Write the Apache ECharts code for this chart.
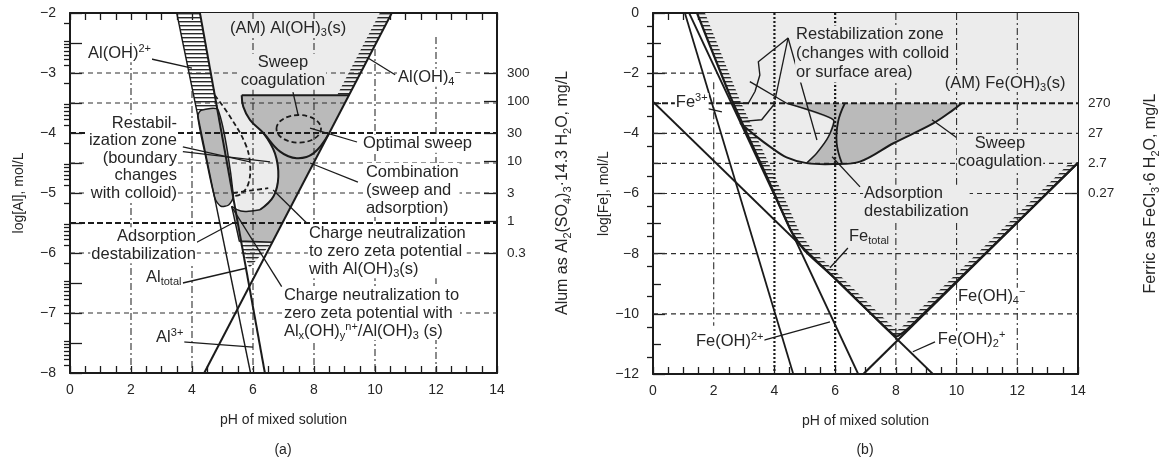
<!DOCTYPE html>
<html>
<head>
<meta charset="utf-8">
<script src="https://cdn.jsdelivr.net/npm/echarts@6/dist/echarts.min.js"></script>
<style>
  html, body { margin: 0; background: #fff; }
  #chart { width: 1163px; height: 463px; }
</style>
</head>
<body>
<div id="chart"></div>
<script>
// ---------- panel (a): alum, pH vs log[Al] ----------
var alumLabelMg = [300, 100, 30, 10, 3, 1, 0.3];
var alumMinorMg = [0.003, 0.004, 0.005, 0.006, 0.007, 0.008, 0.009, 0.01, 0.02, 0.03, 0.04, 0.05, 0.06, 0.07, 0.08, 0.09,
  0.1, 0.2, 0.4, 0.5, 0.6, 0.7, 0.8, 0.9, 2, 4, 5, 6, 7, 8, 9, 20, 40, 50, 60, 70, 80, 90,
  200, 400, 500, 600, 700, 800, 900, 1000, 2000, 3000];

var lightRegionA = [[4.26, -2], [10.55, -2], [6.64, -5.82], [5.88, -6.25]];
var hatchBandA = [[3.5, -2], [4.26, -2], [4.86, -3.62], [4.15, -3.62]];
var alOH4HatchA = [[10.55, -2], [9.15, -3.37]];
var hatchTriA = [[5.55, -5.8], [6.64, -5.82], [5.88, -6.25]];
var darkRegionA = [[5.63, -3.37], [9.15, -3.37], [6.64, -5.82], [5.55, -5.8], [5.3, -5.22], [5.6, -5.3], [5.95, -5.3],
  [6.23, -5.28], [6.67, -5.06], [6.83, -4.73], [6.72, -4.34], [6.34, -4.0], [5.9, -3.78], [5.68, -3.56]];
var restabA = [[4.19, -3.72], [4.3, -3.62], [4.86, -3.62], [5.36, -5.05], [5.2, -5.2], [4.95, -5.22], [4.76, -5.1], [4.45, -4.4]];

var alOH4LineA = [[10.55, -2], [4.4, -8]];
var alTotLineA = [[4.26, -2], [6.39, -8]];
var alOH2LineA = [[3.5, -2], [5.92, -8]];
var sweepEdgeA = [[5.63, -3.37], [9.15, -3.37]];
var sweepCurveA = [[5.63, -3.37], [5.68, -3.56], [5.9, -3.78], [6.34, -4.0], [6.89, -4.31], [7.43, -4.42], [7.98, -4.34], [8.5, -4.0]];
var cCurveA = [[6.34, -4.0], [6.72, -4.34], [6.83, -4.73], [6.67, -5.06], [6.23, -5.28]];
var blobBottomA = [[5.3, -5.22], [5.6, -5.3], [5.95, -5.3], [6.23, -5.28]];
var darkLeftA = [[5.3, -5.22], [5.55, -5.8], [6.64, -5.82]];
var restabDashA = [[4.75, -3.37], [5.25, -3.73], [5.74, -4.17], [5.9, -4.5], [5.85, -4.84], [5.6, -5.02], [5.35, -5.05]];
var restabDash2A = [[5.35, -5.0], [5.9, -4.96], [6.5, -4.92]];
var optimalSweepA = { center: [7.5, -3.93], radius: [0.73, 0.23] };

var ptrA = [
  [[2.52, -2.75], [4.0, -2.92]], [[10.66, -3.03], [9.77, -2.75]], [[7.31, -3.32], [7.48, -3.7]],
  [[9.41, -4.15], [7.87, -3.92]], [[9.44, -4.82], [7.87, -4.5]], [[3.7, -4.23], [5.9, -4.48]],
  [[3.7, -4.31], [6.56, -4.48]], [[4.16, -5.82], [5.34, -5.5]], [[3.7, -6.5], [5.8, -6.25]],
  [[3.7, -7.48], [6.0, -7.57]], [[7.76, -5.5], [6.66, -4.95]], [[6.94, -6.56], [5.3, -5.23]]
];

// ---------- panel (b): ferric, pH vs log[Fe] ----------
var ferricLabelMg = [270, 27, 2.7, 0.27];
var ferricMinorMg = [100000, 27000, 10000, 2700, 1000, 100, 10, 1, 0.1, 0.027, 0.01, 0.001, 0.0001, 0.00001, 0.000001];

var boundaryB = [[1.45, 0], [2.6, -2.9], [3.8, -5.55], [4.55, -7.25], [5.0, -7.9], [5.93, -8.76], [7.6, -10.4],
  [8.02, -10.75], [8.45, -10.45], [14, -4.98]];
var darkRegionB = [[4.4, -3], [10.17, -3], [9.89, -3.22], [9.23, -3.67], [7.92, -4.33], [6.82, -4.94], [5.94, -5.02],
  [5.06, -4.99], [5.39, -4.66], [5.78, -4.11], [5.94, -3.55]];
var adsorbCurveB = [[2.87, -3.66], [3.4, -4.1], [3.85, -4.44], [4.4, -4.8], [5.06, -4.99], [5.94, -5.02], [6.82, -4.94],
  [7.92, -4.33], [9.23, -3.67], [9.89, -3.22], [10.17, -3.0]];
var dividerB = [[6.32, -3.0], [6.1, -3.6], [6.05, -4.33], [6.22, -4.99]];
var darkLeftB = [[4.4, -3], [5.94, -3.55], [5.78, -4.11], [5.39, -4.66], [5.06, -4.99]];
var restabB1 = [[3.47, -1.62], [3.52, -2.06], [3.36, -2.61], [3.14, -3.0], [2.59, -3.0]];
var restabB2 = [[3.19, -2.28], [4.4, -3]];
var restabB3 = [[2.87, -3.61], [3.58, -3.55], [4.02, -3.0]];
var fe3LineB = [[1.05, 0], [4.62, -12]];
var feOH2LineB = [[1.19, 0], [6.76, -12]];
var feOH2pLineB = [[0, -2.95], [9.22, -12]];
var feOH4LineB = [[6.93, -12], [14, -4.98]];

var ptrB = [
  [[4.45, -0.83], [3.46, -1.63]], [[4.45, -0.83], [4.02, -2.89]], [[4.45, -0.83], [5.4, -4.22]],
  [[1.55, -3.12], [2.27, -3.29]], [[6.82, -5.78], [5.9, -4.78]], [[10.11, -4.22], [9.19, -3.55]],
  [[6.42, -7.81], [5.83, -8.47]], [[3.36, -10.96], [5.83, -10.27]], [[9.29, -10.93], [8.56, -11.26]]
];

// ---------- styling ----------
var FONT = '"Liberation Sans", Arial, Helvetica, sans-serif';
var INK = '#1b1b1b', TXT = '#262626', LIGHT = '#ececec', DARK = '#bababa', WHITE = '#ffffff';
var NOTE_SIZE = 16.5;

var hatchCanvas = document.createElement('canvas');
hatchCanvas.width = 4; hatchCanvas.height = 4;
(function () { var g = hatchCanvas.getContext('2d'); g.fillStyle = '#2a2a2a'; g.fillRect(0, 1, 4, 1.4); })();
var HATCH = { type: 'pattern', image: hatchCanvas, repeat: 'repeat' };

var labelsA = [
  { at: [7.15, -2.25], text: '(AM) Al(OH){sb|3}(s)', align: 'center', bg: LIGHT },
  { at: [6.98, -2.98], text: 'Sweep\ncoagulation', align: 'center', bg: LIGHT },
  { at: [0.56, -2.67], text: 'Al(OH){sp|2+}', align: 'left', bg: WHITE },
  { at: [10.72, -3.08], text: 'Al(OH){sb|4}{sp|−}', align: 'left', bg: WHITE },
  { at: [9.57, -4.18], text: 'Optimal sweep', align: 'left', bg: WHITE },
  { at: [9.67, -4.95], text: 'Combination\n(sweep and\nadsorption)', align: 'left', bg: WHITE },
  { at: [3.54, -4.42], text: 'Restabil-\nization zone\n(boundary\nchanges\nwith colloid)', align: 'right', bg: WHITE, lh: 17.5 },
  { at: [4.16, -5.87], text: 'Adsorption\ndestabilization', align: 'right', bg: WHITE },
  { at: [2.46, -6.4], text: 'Al{sb|total}', align: 'left', bg: WHITE },
  { at: [2.79, -7.4], text: 'Al{sp|3+}', align: 'left', bg: WHITE },
  { at: [7.8, -5.97], text: 'Charge neutralization\nto zero zeta potential\nwith Al(OH){sb|3}(s)', align: 'left', bg: WHITE },
  { at: [6.98, -7.0], text: 'Charge neutralization to\nzero zeta potential with\nAl{sb|x}(OH){sb|y}{sp|n+}/Al(OH){sb|3} (s)', align: 'left', bg: WHITE }
];
var labelsB = [
  { at: [4.68, -1.36], text: 'Restabilization zone\n(changes with colloid\nor surface area)', align: 'left', bg: LIGHT, lh: 19 },
  { at: [11.6, -2.33], text: '(AM) Fe(OH){sb|3}(s)', align: 'center', bg: LIGHT },
  { at: [11.43, -4.62], text: 'Sweep\ncoagulation', align: 'center', bg: LIGHT },
  { at: [0.72, -2.96], text: 'Fe{sp|3+}', align: 'left', bg: WHITE },
  { at: [6.92, -6.31], text: 'Adsorption\ndestabilization', align: 'left', bg: LIGHT },
  { at: [6.42, -7.44], text: 'Fe{sb|total}', align: 'left', bg: LIGHT },
  { at: [10.01, -9.43], text: 'Fe(OH){sb|4}{sp|−}', align: 'left', bg: WHITE },
  { at: [9.35, -10.86], text: 'Fe(OH){sb|2}{sp|+}', align: 'left', bg: WHITE },
  { at: [1.38, -10.93], text: 'Fe(OH){sp|2+}', align: 'left', bg: WHITE }
];

var gridA = {
  h: [[-3, 0, 14], [-3.5, 0, 14], [-4.5, 0, 14], [-5, 0, 14], [-6, 0, 14], [-7, 0, 14]],
  hBold: [[-4, 0, 14], [-5.5, 0, 14]],
  v: [[2, -2.5, -8], [4, -3.3, -8], [6, -2, -8], [8, -2, -8], [10, -2.6, -8], [12, -2.4, -8]],
  vBold: []
};
var gridB = {
  h: [[-2, 0, 2.1], [-4, 0, 14], [-5, 0, 14], [-6, 0, 14], [-8, 0, 14], [-10, 0, 14]],
  hBold: [[-3, 0, 14]],
  v: [[2, -2.3, -10.4], [8, 0, -12], [10, 0, -12], [12, 0, -12]],
  vBold: [[4, 0, -12], [6, 0, -12]]
};

function alumLog(m) { return -3 + Math.log10(m / 300); }
function ferricLog(m) { return -3 + Math.log10(m / 270); }
function minusFmt(v) { return v < 0 ? '−' + Math.abs(v) : String(v); }

// ---------- element helpers ----------
function P(api, pts) { return pts.map(function (p) { return api.coord(p); }); }
function poly(api, pts, style, smooth) {
  return { type: 'polygon', shape: { points: P(api, pts), smooth: smooth || 0 }, style: style };
}
function pline(api, pts, w, smooth, dash) {
  return { type: 'polyline', shape: { points: P(api, pts), smooth: smooth || 0 },
    style: { fill: 'none', stroke: INK, lineWidth: w, lineDash: dash || null, lineJoin: 'round' } };
}
function band(api, pts, dx) {
  var a = P(api, pts);
  var b = a.map(function (q) { return [q[0] + dx, q[1]]; }).reverse();
  return { type: 'polygon', shape: { points: a.concat(b) }, style: { fill: HATCH } };
}
function gridEls(api, g) {
  var out = [];
  function add(list, horiz, style) {
    list.forEach(function (s) {
      var p1 = horiz ? api.coord([s[1], s[0]]) : api.coord([s[0], s[1]]);
      var p2 = horiz ? api.coord([s[2], s[0]]) : api.coord([s[0], s[2]]);
      out.push({ type: 'line', shape: { x1: p1[0], y1: p1[1], x2: p2[0], y2: p2[1] }, style: style });
    });
  }
  add(g.h, true, { stroke: '#2e2e2e', lineWidth: 1.1, lineDash: [5, 4] });
  add(g.hBold, true, { stroke: INK, lineWidth: 2.2, lineDash: [6, 3] });
  add(g.v, false, { stroke: '#2e2e2e', lineWidth: 1.1, lineDash: [7, 3, 2, 3] });
  add(g.vBold, false, { stroke: INK, lineWidth: 2.2, lineDash: [2, 2] });
  return out;
}
var RICH = {
  sb: { fontSize: 11, fontFamily: FONT, fill: TXT, padding: [9, 0, 0, 0] },
  sp: { fontSize: 11, fontFamily: FONT, fill: TXT, padding: [0, 0, 9, 0] }
};
function labelEls(api, labels) {
  return labels.map(function (l) {
    var c = api.coord(l.at);
    return { type: 'text', x: c[0], y: c[1], style: {
      text: l.text, align: l.align, verticalAlign: 'middle', fill: TXT, fontSize: NOTE_SIZE, fontFamily: FONT,
      lineHeight: l.lh || 18, backgroundColor: l.bg, padding: [0, 1], rich: RICH } };
  });
}
function ptrEls(api, list) {
  return list.map(function (s) { return pline(api, s, 1.3); });
}

function buildA(api) {
  var k = [];
  k.push(poly(api, lightRegionA, { fill: LIGHT }));
  k.push(poly(api, hatchBandA, { fill: HATCH }));
  k.push(band(api, alOH4HatchA, -12));
  k.push(poly(api, darkRegionA, { fill: DARK }));
  k.push(poly(api, restabA, { fill: DARK, stroke: INK, lineWidth: 1.5 }, 0.25));
  k.push(poly(api, hatchTriA, { fill: HATCH }));
  k = k.concat(gridEls(api, gridA));
  k.push(pline(api, alOH4LineA, 2));
  k.push(pline(api, alTotLineA, 2));
  k.push(pline(api, alOH2LineA, 1.4));
  k.push(pline(api, sweepEdgeA, 2));
  k.push(pline(api, sweepCurveA, 2, 0.4));
  k.push(pline(api, cCurveA, 2, 0.4));
  k.push(pline(api, blobBottomA, 1.4, 0.4));
  k.push(pline(api, darkLeftA, 1.4));
  k.push(pline(api, restabDashA, 1.8, 0.4, [5, 3]));
  k.push(pline(api, restabDash2A, 1.8, 0.3, [5, 3]));
  var c = api.coord(optimalSweepA.center);
  var r = api.size([optimalSweepA.radius[0], optimalSweepA.radius[1]]);
  k.push({ type: 'ellipse', shape: { cx: c[0], cy: c[1], rx: r[0], ry: r[1] },
    style: { fill: 'none', stroke: INK, lineWidth: 1.8, lineDash: [5, 3] } });
  k = k.concat(ptrEls(api, ptrA));
  k = k.concat(labelEls(api, labelsA));
  return k;
}

function buildB(api) {
  var k = [];
  k.push(poly(api, boundaryB.concat([[14, 0]]), { fill: LIGHT }));
  k.push(band(api, boundaryB.slice(0, 8), 8));
  k.push(band(api, boundaryB.slice(7), -8));
  k.push(poly(api, darkRegionB, { fill: DARK }));
  k = k.concat(gridEls(api, gridB));
  k.push(pline(api, fe3LineB, 1.8));
  k.push(pline(api, feOH2LineB, 1.8));
  k.push(pline(api, feOH2pLineB, 1.8));
  k.push(pline(api, feOH4LineB, 2.2));
  k.push(pline(api, boundaryB, 2.2, 0.15));
  k.push(pline(api, adsorbCurveB, 2, 0.35));
  k.push(pline(api, dividerB, 1.8, 0.4));
  k.push(pline(api, darkLeftB, 1.5, 0.2));
  k.push(pline(api, restabB1, 1.4));
  k.push(pline(api, restabB2, 1.4));
  k.push(pline(api, restabB3, 1.4));
  k = k.concat(ptrEls(api, ptrB));
  k = k.concat(labelEls(api, labelsB));
  return k;
}

// ---------- axes ----------
var tickStyle = { color: INK, width: 1.3 };
var lineStyle = { color: INK, width: 2 };
var labelStyle = { color: TXT, fontSize: 14, fontFamily: FONT };
var nameStyle = { color: TXT, fontSize: 14, fontFamily: FONT,
  rich: { s: { color: TXT, fontSize: 10, fontFamily: FONT, padding: [8, 0, 0, 0] } } };
var rNameStyle = { color: TXT, fontSize: 16, fontFamily: FONT,
  rich: { s: { color: TXT, fontSize: 11, fontFamily: FONT, padding: [9, 0, 0, 0] } } };

function xAxesFor(gi) {
  var base = { gridIndex: gi, type: 'value', min: 0, max: 14, interval: 2,
    axisLine: { show: true, onZero: false, lineStyle: lineStyle },
    axisTick: { show: true, inside: true, length: 7, lineStyle: tickStyle },
    minorTick: { show: true, splitNumber: 4, length: 7, lineStyle: tickStyle },
    splitLine: { show: false }, minorSplitLine: { show: false } };
  return [
    Object.assign({}, base, { position: 'bottom', name: 'pH of mixed solution', nameLocation: 'middle', nameGap: 40,
      nameTextStyle: nameStyle, axisLabel: Object.assign({ margin: 10 }, labelStyle) }),
    Object.assign({}, base, { position: 'top', axisLabel: { show: false } })
  ];
}
function yAxesFor(gi, min, max, interval, name, nameGap, rName, rNameGap, labelMg, minorMg, toLog, minorLen) {
  var labelLogs = labelMg.map(toLog);
  var minorLogs = minorMg.map(toLog).filter(function (v) { return v > min && v < max; });
  return [
    { gridIndex: gi, type: 'value', position: 'left', min: min, max: max, interval: interval,
      axisLine: { show: true, onZero: false, lineStyle: lineStyle },
      axisTick: { show: true, inside: true, length: 12, lineStyle: tickStyle },
      minorTick: { show: true, splitNumber: 2, length: minorLen, lineStyle: tickStyle },
      splitLine: { show: false },
      axisLabel: Object.assign({ margin: 14, formatter: minusFmt }, labelStyle),
      name: name, nameLocation: 'middle', nameGap: nameGap, nameRotate: 90, nameTextStyle: nameStyle },
    { gridIndex: gi, type: 'value', position: 'right', min: min, max: max,
      axisLine: { show: true, onZero: false, lineStyle: lineStyle },
      axisTick: { show: true, inside: true, length: 13, lineStyle: tickStyle, customValues: labelLogs },
      splitLine: { show: false },
      axisLabel: { margin: 10, color: TXT, fontSize: 13.5, fontFamily: FONT, customValues: labelLogs, formatter: function (v) {
        var best = 0;
        labelLogs.forEach(function (x, i) { if (Math.abs(x - v) < Math.abs(labelLogs[best] - v)) best = i; });
        return String(labelMg[best]);
      } },
      name: rName, nameLocation: 'middle', nameGap: rNameGap, nameRotate: 90, nameTextStyle: rNameStyle },
    { gridIndex: gi, type: 'value', position: 'right', min: min, max: max,
      axisLine: { show: false },
      axisTick: { show: true, inside: true, length: 6, lineStyle: tickStyle, customValues: minorLogs },
      axisLabel: { show: false }, splitLine: { show: false } }
  ];
}

var option = {
  backgroundColor: '#ffffff',
  animation: false,
  textStyle: { fontFamily: FONT },
  grid: [
    { left: 70, top: 13, width: 427, height: 360 },
    { left: 653, top: 13, width: 425, height: 361 }
  ],
  xAxis: xAxesFor(0).concat(xAxesFor(1)),
  yAxis: yAxesFor(0, -8, -2, 1, 'log[Al], mol/L', 44,
      'Alum as Al{s|2}(SO{s|4}){s|3}·14.3 H{s|2}O, mg/L', 56, alumLabelMg, alumMinorMg, alumLog, 12)
    .concat(yAxesFor(1, -12, 0, 2, 'log[Fe], mol/L', 41,
      'Ferric as FeCl{s|3}·6 H{s|2}O, mg/L', 63, ferricLabelMg, ferricMinorMg, ferricLog, 8)),
  graphic: [
    { type: 'text', x: 283, y: 450, style: { text: '(a)', fill: TXT, fontSize: 14, fontFamily: FONT, align: 'center', verticalAlign: 'middle' } },
    { type: 'text', x: 865, y: 450, style: { text: '(b)', fill: TXT, fontSize: 14, fontFamily: FONT, align: 'center', verticalAlign: 'middle' } }
  ],
  series: [
    { type: 'custom', xAxisIndex: 0, yAxisIndex: 0, silent: true, data: [[7, -5]],
      renderItem: function (params, api) { return { type: 'group', children: buildA(api) }; } },
    { type: 'custom', xAxisIndex: 2, yAxisIndex: 3, silent: true, data: [[7, -6]],
      renderItem: function (params, api) { return { type: 'group', children: buildB(api) }; } }
  ]
};

var chart = echarts.init(document.getElementById('chart'), null, { renderer: 'canvas' });
chart.setOption(option);
</script>
</body>
</html>
